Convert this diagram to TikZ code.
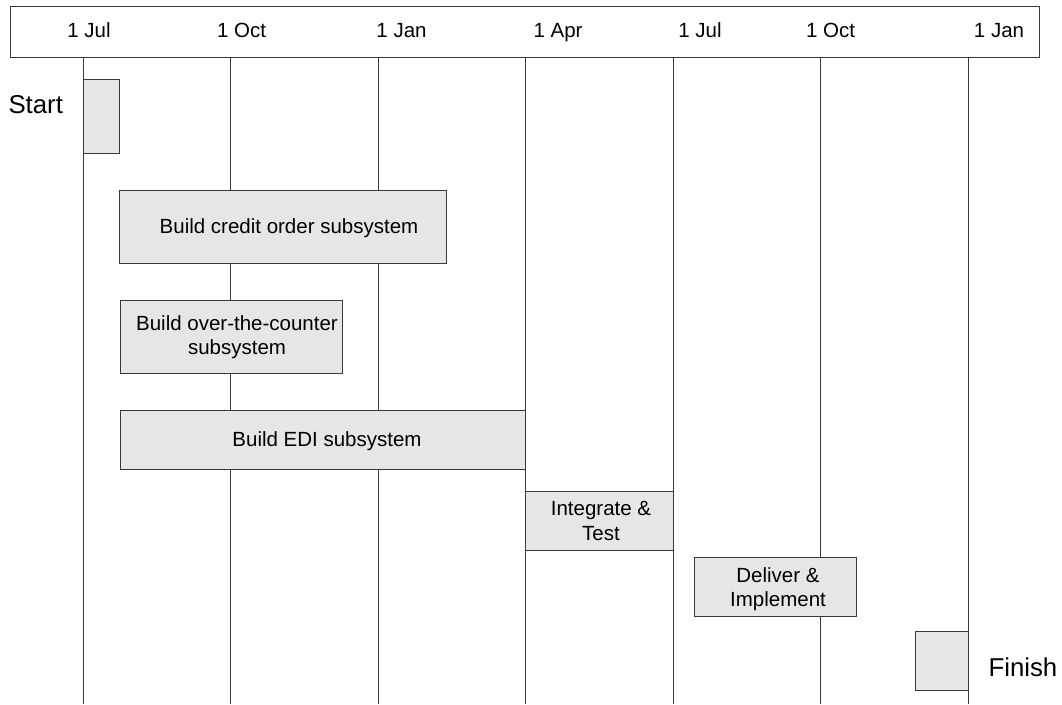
\documentclass[tikz,border=0pt]{standalone}
\usepackage{fontspec}
\setmainfont{Liberation Sans}
\usetikzlibrary{positioning}
\definecolor{barfill}{HTML}{E6E6E6}
\definecolor{rule}{HTML}{3A3A3A}

\begin{document}
\begin{tikzpicture}[x=1pt,y=-1pt,line width=1pt,
  every node/.style={font=\fontsize{20.5}{24.5}\selectfont,inner sep=0pt},
  bar/.style={draw=rule,fill=barfill},
  endlabel/.style={font=\fontsize{25.8}{30}\selectfont}]
\useasboundingbox (0,0) rectangle (1062,704);
% time axis
\draw[rule] (10,6) rectangle (1039,57);
\node[anchor=base] (jul1) at (89,37) {1 Jul};
\node[anchor=base] (oct1) at (241.5,37) {1 Oct};
\node[anchor=base] (jan1) at (401.5,37) {1 Jan};
\node[anchor=base] (apr1) at (558,37) {1 Apr};
\node[anchor=base] (jul2) at (700,37) {1 Jul};
\node[anchor=base] (oct2) at (830.5,37) {1 Oct};
\node[anchor=base] (jan2) at (999,37) {1 Jan};
% quarter rules
\draw[rule] (83,57) -- (83,704);
\draw[rule] (230.5,57) -- (230.5,704);
\draw[rule] (378,57) -- (378,704);
\draw[rule] (525.5,57) -- (525.5,704);
\draw[rule] (673,57) -- (673,704);
\draw[rule] (820.5,57) -- (820.5,704);
\draw[rule] (968,57) -- (968,704);
% tasks
\draw[bar] (83,79) rectangle (119,153);
\node[endlabel,anchor=east] (start) at (63.5,105) {Start};
\draw[bar] (119,190) rectangle (446,263);
\node (credit) at (289,228.5) {Build credit order subsystem};
\draw[bar] (120,300) rectangle (342,373);
\node[align=center] (counter) at (237,337) {Build over-the-counter\\subsystem};
\draw[bar] (120,410) rectangle (525.5,469);
\node (edi) at (327,441.5) {Build EDI subsystem};
\draw[bar] (525.5,491) rectangle (673,550);
\node[align=center] (integrate) at (601,521) {Integrate \&\\Test};
\draw[bar] (694.5,557.5) rectangle (856.5,616.5);
\node[align=center] (deliver) at (778,589) {Deliver \&\\Implement};
\draw[bar] (915,631) rectangle (968,690);
\node[endlabel,anchor=west] (finish) at (988,667) {Finish};
\end{tikzpicture}
\end{document}
